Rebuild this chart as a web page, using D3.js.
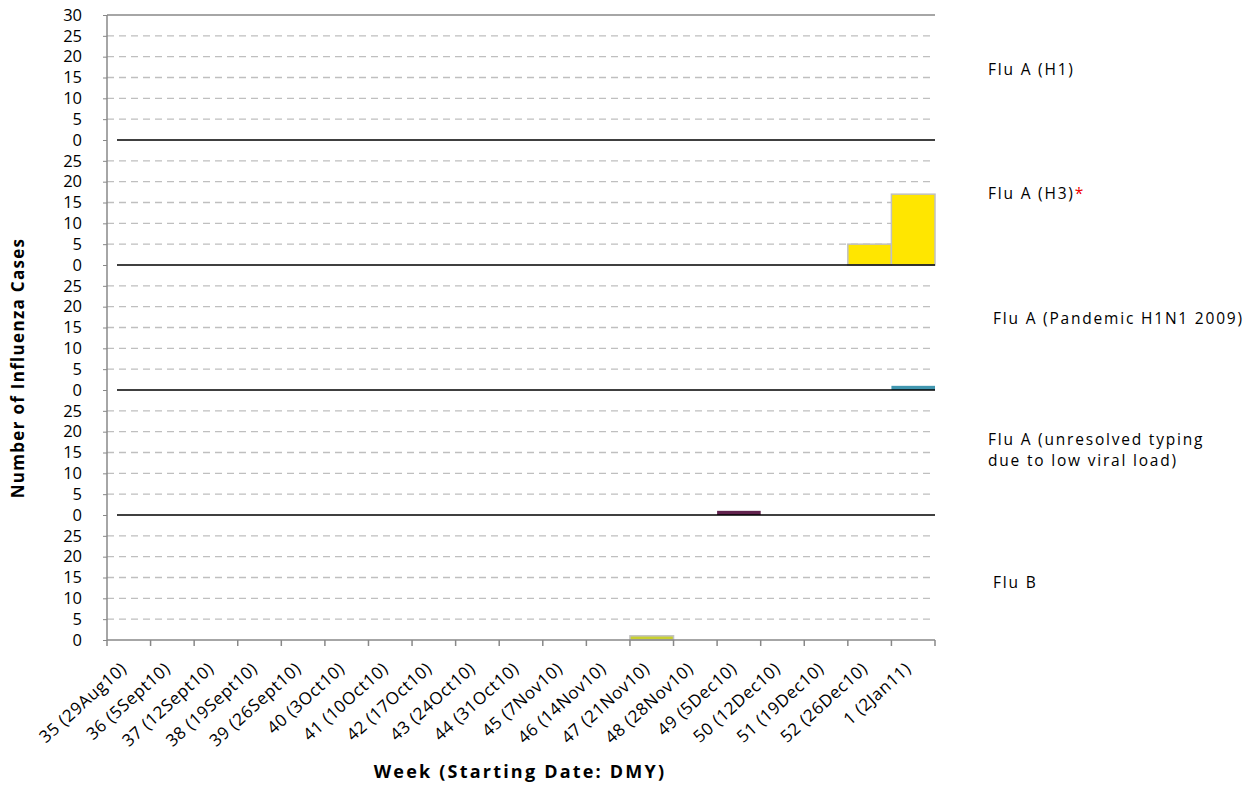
<!DOCTYPE html>
<html><head><meta charset="utf-8">
<script src="https://cdn.jsdelivr.net/npm/d3@7"></script>
<style>body{margin:0;background:#fff;} text{font-family:"Open Sans",sans-serif;}</style>
</head><body><svg id="c" width="1245" height="808"></svg>
<script>
const weeks = ["35 (29Aug10)","36 (5Sept10)","37 (12Sept10)","38 (19Sept10)","39 (26Sept10)","40 (3Oct10)","41 (10Oct10)","42 (17Oct10)","43 (24Oct10)","44 (31Oct10)","45 (7Nov10)","46 (14Nov10)","47 (21Nov10)","48 (28Nov10)","49 (5Dec10)","50 (12Dec10)","51 (19Dec10)","52 (26Dec10)","1 (2Jan11)"];
const fluAH1 =        [0,0,0,0,0,0,0,0,0,0,0,0,0,0,0,0,0,0,0];
const fluAH3 =        [0,0,0,0,0,0,0,0,0,0,0,0,0,0,0,0,0,5,17];
const fluAPandemic =  [0,0,0,0,0,0,0,0,0,0,0,0,0,0,0,0,0,0,1];
const fluAUnresolved =[0,0,0,0,0,0,0,0,0,0,0,0,0,0,1,0,0,0,0];
const fluB =          [0,0,0,0,0,0,0,0,0,0,0,0,1,0,0,0,0,0,0];
const panelTicks = [0,5,10,15,20,25,30];
const seriesNames = ["Flu A (H1)","Flu A (H3)","Flu A (Pandemic H1N1 2009)","Flu A (unresolved typing due to low viral load)","Flu B"];
const seriesColors = ["#4f81bd","#ffe600","#4197b0","#62234e","#c8d030"];

const series = [fluAH1, fluAH3, fluAPandemic, fluAUnresolved, fluB];
const svg = d3.select("#c");
const L = 107, R = 935, T = 15, B = 640;
const panelH = (B - T) / 5;
const x = d3.scaleBand().domain(weeks).range([L, R]).padding(0);

series.forEach((vals, i) => {
  const top = T + i * panelH, bottom = top + panelH;
  const y = d3.scaleLinear().domain([0,30]).range([bottom, top]);
  const g = svg.append("g");
  panelTicks.filter(t => t > 0 && t < 30).forEach(t => {
    g.append("line").attr("x1", L).attr("x2", R).attr("y1", y(t)).attr("y2", y(t))
      .attr("stroke", "#bfbfbf").attr("stroke-width", 1.3).attr("stroke-dasharray", "7,5");
  });
  g.selectAll("rect").data(vals.map((v, j) => ({v, w: weeks[j]})).filter(d => d.v > 0))
    .enter().append("rect")
    .attr("x", d => x(d.w)).attr("width", x.bandwidth())
    .attr("y", d => y(d.v)).attr("height", d => y(0) - y(d.v))
    .attr("fill", seriesColors[i])
    .attr("stroke", i === 1 || i === 4 ? "#c0c0c0" : "none").attr("stroke-width", 1.5);
  if (i < 4) {
    g.append("line").attr("x1", L + 10).attr("x2", R).attr("y1", y(0)).attr("y2", y(0))
      .attr("stroke", "#000").attr("stroke-width", 1.5);
  }
  const labs = i === 0 ? panelTicks : panelTicks.filter(t => t < 30);
  const ax = d3.axisLeft(y).tickValues(labs).tickSize(4).tickPadding(21).tickFormat(d3.format("d"));
  const ag = g.append("g").attr("transform", `translate(${L},0)`).call(ax);
  ag.select(".domain").remove();
  ag.selectAll("line").attr("stroke", "#888");
  ag.selectAll("text").attr("font-size", 16.5).attr("fill", "#000").attr("font-family", "'DejaVu Sans', sans-serif");
});

svg.append("line").attr("x1", L).attr("x2", R).attr("y1", T).attr("y2", T).attr("stroke", "#888").attr("stroke-width", 1.5);
svg.append("line").attr("x1", L).attr("x2", L).attr("y1", T).attr("y2", B).attr("stroke", "#888").attr("stroke-width", 1.5);

const xg = svg.append("g").attr("transform", `translate(0,${B})`);
xg.append("line").attr("x1", L).attr("x2", R).attr("stroke", "#888").attr("stroke-width", 1.5);
const bounds = weeks.map(w => x(w)).concat([R]);
xg.selectAll("line.tk").data(bounds).enter().append("line").attr("class","tk")
  .attr("x1", d => d).attr("x2", d => d).attr("y1", 0).attr("y2", 6).attr("stroke", "#888").attr("stroke-width", 1.5);
xg.selectAll("text").data(weeks).enter().append("text")
  .attr("transform", d => `translate(${x(d) + x.bandwidth()/2 - 1},${30}) rotate(-42)`)
  .attr("text-anchor", "end").attr("font-size", 17).attr("letter-spacing", 0.6).attr("fill", "#000").text(d => d);

svg.append("text").attr("transform", `translate(24,368) rotate(-90)`).attr("text-anchor","middle")
  .attr("font-size", 17).attr("font-weight", "bold").attr("letter-spacing", 1.3).text("Number of Influenza Cases");
svg.append("text").attr("x", 520).attr("y", 778).attr("text-anchor","middle")
  .attr("font-size", 18).attr("font-weight", "bold").attr("letter-spacing", 2.2).text("Week (Starting Date: DMY)");

const lab = svg.append("g").attr("font-size", 15.5).attr("fill", "#000").attr("letter-spacing", 1.8);
lab.append("text").attr("x", 988).attr("y", 75).text(seriesNames[0]);
const h3 = lab.append("text").attr("x", 988).attr("y", 199).text(seriesNames[1]);
h3.append("tspan").attr("fill", "#e00").text("*");
lab.append("text").attr("x", 993).attr("y", 324).text(seriesNames[2]);
lab.append("text").attr("x", 988).attr("y", 445).text("Flu A (unresolved typing");
lab.append("text").attr("x", 988).attr("y", 466).text("due to low viral load)");
lab.append("text").attr("x", 993).attr("y", 588).text(seriesNames[4]);
</script></body></html>
